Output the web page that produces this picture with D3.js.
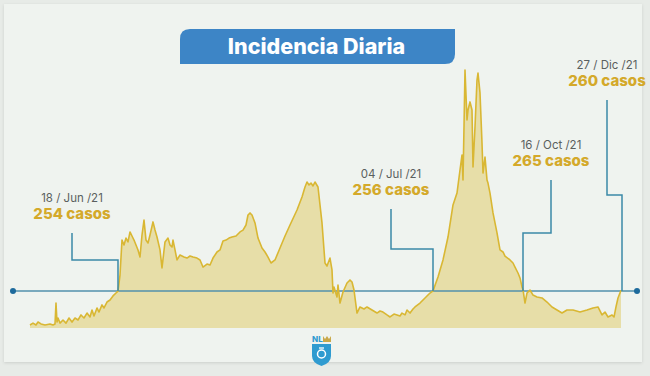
<!DOCTYPE html>
<html><head><meta charset="utf-8">
<script src="https://cdn.jsdelivr.net/npm/d3@7"></script>
<style>
html,body{margin:0;padding:0;background:#e7ebe7;}
svg{display:block;}
</style></head>
<body>
<svg id="c" width="650" height="376"></svg>
<script>
// ---- data ----
const title = "Incidencia Diaria";
// day index since start of the series
const days = [0,3,6,8,11,15,20,23,25,26,27,28,30,33,36,39,42,45,48,51,54,57,60,62,64,67,69,72,74,77,80,83,86,88,
90,92,94,96,98,100,102,104,106,108,110,112,114,116,118,120,123,125,127,130,132,135,138,140,142,143,145,147,150,154,157,160,163,167,
170,173,177,180,183,187,190,193,196,199,202,206,210,213,216,218,220,222,225,228,232,235,238,241,245,250,255,260,267,272,275,277,279,281,283,285,288,
292,295,297,300,302,303,304,307,308,310,313,317,320,322,324,327,330,334,337,342,347,350,353,357,360,364,367,370,372,375,377,380,383,385,390,395,400,403,
408,413,418,423,427,430,432,433,434,435,436,437,438,440,442,443,445,447,448,450,452,453,455,457,458,460,463,467,470,473,475,480,483,485,488,490,492,493,
495,497,500,503,507,512,517,522,527,532,537,543,550,557,563,568,572,575,578,582,584,586,588,591];
const cases = [21,34,21,41,28,21,28,21,28,172,41,69,34,55,34,69,41,69,55,90,69,103,76,124,83,138,110,159,138,179,193,221,241,254,
365,606,572,620,593,662,634,606,572,538,489,641,744,606,586,641,731,675,627,538,414,593,620,572,558,606,538,469,503,489,482,496,489,482,
469,420,441,434,482,524,538,600,606,620,627,634,662,675,710,779,793,779,724,620,551,524,489,448,469,551,634,710,813,903,972,1006,986,999,979,1006,972,
724,448,427,482,400,241,283,214,296,172,248,310,331,317,262,103,145,131,145,124,103,117,110,90,76,96,90,83,103,90,124,103,131,145,172,207,241,256,
351,469,627,848,930,1089,1192,1020,1385,1778,1606,1434,1502,1558,1502,1110,1385,1709,1757,1620,1275,1068,1178,1020,999,930,793,655,538,524,496,469,448,420,379,345,283,265,
172,241,262,227,214,207,179,145,124,103,124,124,110,124,138,145,90,110,76,90,76,145,207,260];
const threshold = 255;
const annoDates = ["18 / Jun /21","04 / Jul /21","16 / Oct /21","27 / Dic /21"];
const annoCases = [254,256,265,260];
const annoDays  = [88,403,493,592];

// ---- layout (not data) ----
const annoLabelX = [72,391,551,607];
const annoTopY   = [233,209,180,100];
const annoElbowY = [260,249,233,195];

const svg = d3.select("#c");
const x = d3.scaleLinear().domain([0,592]).range([30,622]);
const y = d3.scaleLinear().domain([0,1800]).range([328,328-1800*37/255]);

// card
const defs = svg.append("defs");
const f = defs.append("filter").attr("id","sh").attr("x","-5%").attr("y","-5%").attr("width","110%").attr("height","110%");
f.append("feDropShadow").attr("dx",0).attr("dy",1).attr("stdDeviation",1.5).attr("flood-color","#000").attr("flood-opacity",0.12);
svg.append("rect").attr("x",4).attr("y",4).attr("width",638).attr("height",358).attr("fill","#eff3ef").attr("filter","url(#sh)");

// title box: rounded TL and BR
const bx=180, by=29, bw=275, bh=35, r=10;
svg.append("path")
  .attr("d",`M${bx},${by+r} Q${bx},${by} ${bx+r},${by} L${bx+bw},${by} L${bx+bw},${by+bh-r} Q${bx+bw},${by+bh} ${bx+bw-r},${by+bh} L${bx},${by+bh} Z`)
  .attr("fill","#3d85c6");
svg.append("text").attr("x",bx+bw/2-1).attr("y",54).attr("text-anchor","middle")
  .attr("font-family","Inter, 'Open Sans', sans-serif").attr("font-weight",800).attr("font-size",21.5)
  .attr("fill","#ffffff").text(title);

const data = days.map((d,i)=>({d, v:cases[i]}));

// area
svg.append("path").datum(data)
  .attr("d", d3.area().x(p=>x(p.d)).y0(y(0)).y1(p=>y(p.v)))
  .attr("fill","#e6dca3").attr("opacity",0.95);

// threshold line
const thY = y(threshold);
svg.append("line").attr("x1",13).attr("x2",637).attr("y1",thY).attr("y2",thY)
  .attr("stroke","#5290ad").attr("stroke-width",1.3);
svg.selectAll("circle.end").data([13,637]).join("circle").attr("class","end")
  .attr("cx",d=>d).attr("cy",thY).attr("r",3).attr("fill","#1d6a9c");

// series line
svg.append("path").datum(data)
  .attr("d", d3.line().x(p=>x(p.d)).y(p=>y(p.v)))
  .attr("fill","none").attr("stroke","#d9b733").attr("stroke-width",1.6).attr("stroke-linejoin","round");

// annotations
annoDates.forEach((dt,i)=>{
  const lx = annoLabelX[i], ty = annoTopY[i], ey = annoElbowY[i], px = x(annoDays[i]);
  svg.append("path")
    .attr("d",`M${lx},${ty} V${ey} H${px} V${thY}`)
    .attr("fill","none").attr("stroke","#3b89a8").attr("stroke-width",1.5);
  svg.append("text").attr("x",lx).attr("y",ty-31.5).attr("text-anchor","middle")
    .attr("font-family","Inter, 'Open Sans', sans-serif").attr("font-size",11.5).attr("fill","#5a5f5e").text(dt);
  svg.append("text").attr("x",lx).attr("y",ty-14).attr("text-anchor","middle")
    .attr("font-family","Inter, 'Open Sans', sans-serif").attr("font-weight",800).attr("font-size",15)
    .attr("fill","#d4a92a").text(annoCases[i] + " casos");
});

// logo
const lg = svg.append("g").attr("transform","translate(311,334)");
lg.append("text").attr("x",1).attr("y",8).attr("font-family","Inter, sans-serif").attr("font-weight",800)
  .attr("font-size",8).attr("fill","#2f9bd0").text("NL");
lg.append("path").attr("d","M12,2 L14,5 L16,2 L18,5 L20,2 L20,8 L12,8 Z").attr("fill","#c9a84a");
lg.append("path").attr("d","M1,10 H20 V22 Q20,29 10.5,32 Q1,29 1,22 Z").attr("fill","#2f9bd0");
lg.append("circle").attr("cx",10.5).attr("cy",20).attr("r",4).attr("fill","none").attr("stroke","#fff").attr("stroke-width",1.5);
lg.append("path").attr("d","M8,14 L13,14").attr("stroke","#fff").attr("stroke-width",1.3);
</script>
</body></html>
